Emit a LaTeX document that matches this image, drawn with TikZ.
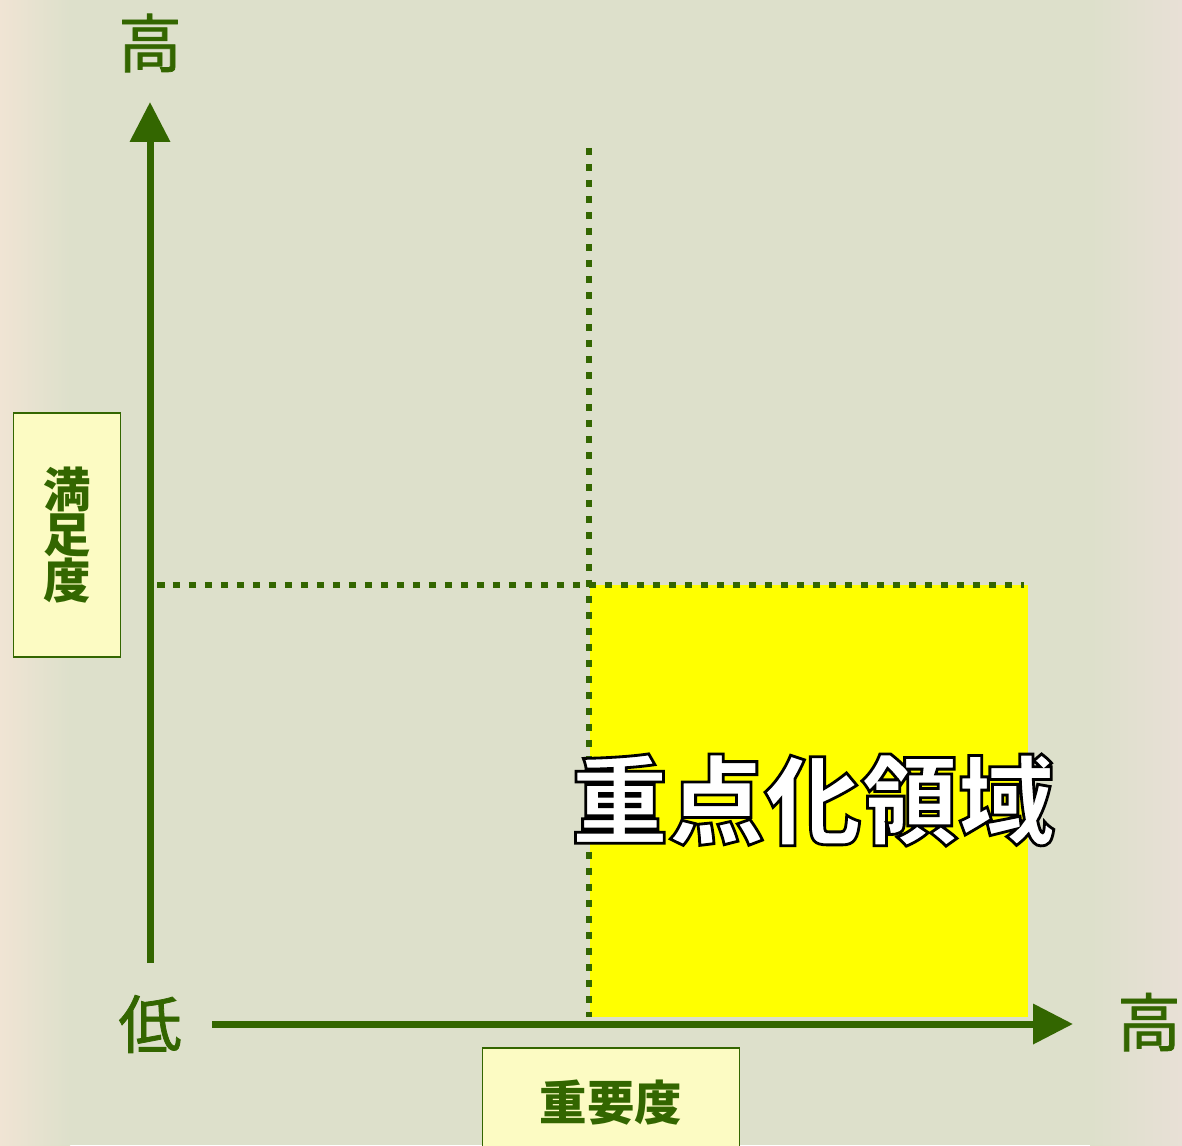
\documentclass[tikz,border=0pt]{standalone}
\usepackage{fontspec}
\usetikzlibrary{arrows.meta, positioning}
\newfontfamily\jpfont{Noto Sans CJK JP}
\newfontfamily\jpmid[FakeBold=1.2]{Noto Sans CJK JP}
\definecolor{axisgreen}{RGB}{51,102,0}
\definecolor{labelfill}{RGB}{252,251,195}
\definecolor{focusyellow}{RGB}{255,255,0}
\definecolor{bgleft}{RGB}{240,228,212}
\definecolor{bgmid}{RGB}{221,224,203}
\definecolor{bgright}{RGB}{232,224,214}
% white letters with a thin black edge
\newcommand{\edgetext}[1]{\special{pdf:literal direct 0 G 2 Tr 1.6 w}#1\special{pdf:literal direct 0 Tr}}

\begin{document}
\begin{tikzpicture}[x=0.02cm, y=-0.02cm, font=\jpfont,
  >={Triangle[length=0.8cm, width=0.78cm]},
  axisline/.style={->, draw=axisgreen, line width=0.14cm},
  dotline/.style={draw=axisgreen, line width=0.12cm, dash pattern=on 0.15cm off 0.17cm},
  labelbox/.style={draw=axisgreen, line width=0.7pt, fill=labelfill, text=axisgreen,
    font=\jpfont\bfseries\fontsize{27}{26}\selectfont, align=center, inner sep=0pt},
  endtext/.style={text=axisgreen, font=\jpmid\fontsize{36}{36}\selectfont, inner sep=0pt}]

% background
\fill[bgmid] (0,0) rectangle (1182,1145);
\shade[left color=bgleft, right color=bgmid] (0,0) rectangle (70,1145);
\shade[left color=bgmid, right color=bgright] (1090,0) rectangle (1182,1145);
\useasboundingbox (0,0) rectangle (1182,1145);

% focus area
\fill[focusyellow] (590,585) rectangle (1028,1017);

\coordinate (ybot) at (150,963);
\coordinate (ytop) at (150,102);
\coordinate (xleft) at (212,1024);
\coordinate (xright) at (1073,1024);
\coordinate (vtop) at (589,148);
\coordinate (vbot) at (589,1017);
\coordinate (hleft) at (157,585);
\coordinate (hright) at (1024,585);

\node[endtext] (yhigh) at (150,43) {高};
\node[endtext] (low) at (150,1024) {低};
\node[endtext] (xhigh) at (1149,1022) {高};

\node[labelbox, minimum width=2.14cm, minimum height=4.88cm] (ylabel) at (67,535) {満\\足\\度};
\node[labelbox, minimum width=5.14cm, minimum height=2.2cm] (xlabel) at (611,1103) {重要度};

\draw[dotline] (vtop) -- (vbot);
\draw[dotline] (hleft) -- (hright);
\draw[axisline] (ybot) -- (ytop);
\draw[axisline] (xleft) -- (xright);

\node[text=white, font=\jpfont\bfseries\fontsize{55}{55}\selectfont, inner sep=0pt] (focus) at (813,800) {\edgetext{重点化領域}};
\end{tikzpicture}
\end{document}
